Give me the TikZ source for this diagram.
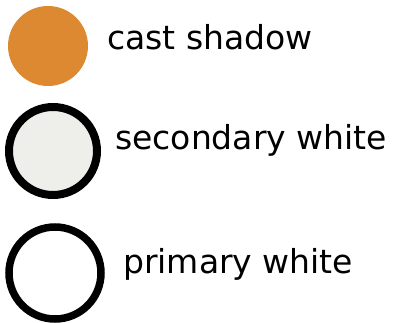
\documentclass[tikz,border=0pt]{standalone}
\usepackage{fontspec}
\setmainfont{DejaVu Sans}
\usetikzlibrary{positioning}
\definecolor{shadoworange}{RGB}{221,137,50}
\definecolor{secgray}{RGB}{238,238,235}

\begin{document}
\begin{tikzpicture}[
  x=1pt, y=-1pt,
  dot/.style={circle, inner sep=0pt},
  lbl/.style={anchor=base west, inner sep=0pt, font=\fontsize{33}{37}\selectfont}
]
\useasboundingbox (0,0) rectangle (399,323);
\node[dot, fill=shadoworange, minimum size=80pt] (cast) at (48,46) {};
\node[dot, draw, line width=8pt, fill=secgray, minimum size=88pt] (secondary) at (53,151) {};
\node[dot, draw, line width=7.5pt, fill=white, minimum size=92pt] (primary) at (55,273) {};

\node[lbl] (castlbl) at (107,50) {cast shadow};
\node[lbl] (seclbl) at (115,150) {secondary white};
\node[lbl] (primlbl) at (123,273) {primary white};
\end{tikzpicture}
\end{document}
